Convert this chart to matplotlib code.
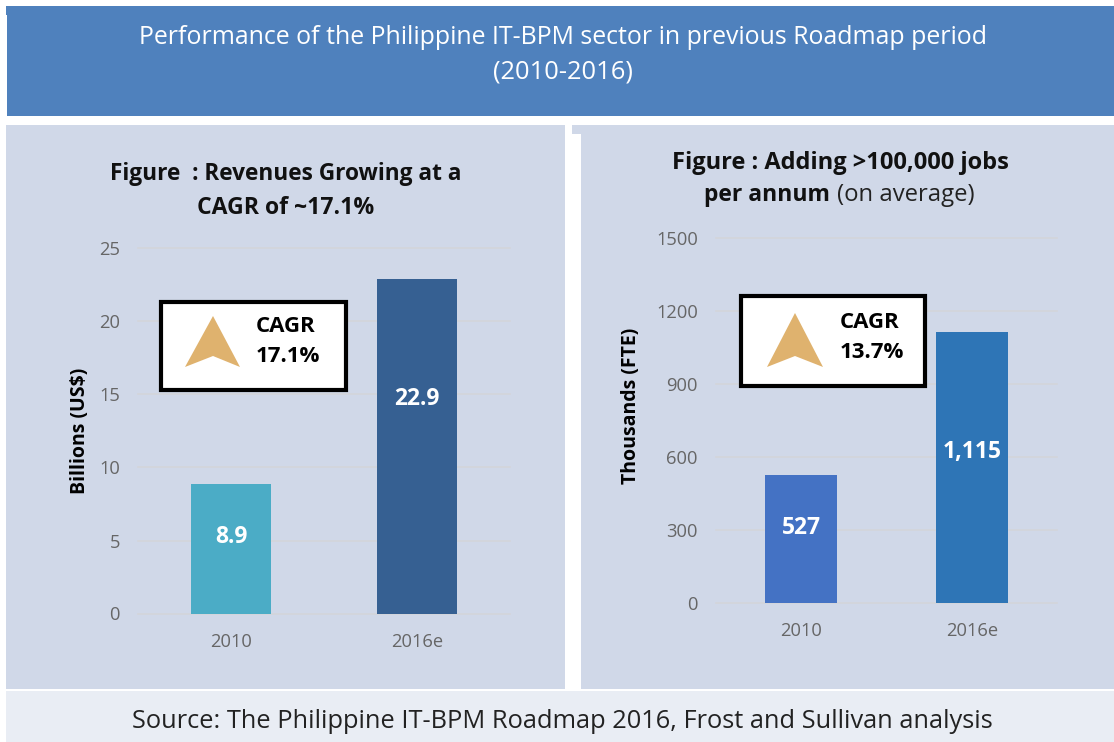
import numpy as np
import matplotlib
matplotlib.use("Agg")
import matplotlib.pyplot as plt
from matplotlib.patches import Rectangle, Polygon

W, H = 1114, 742
FONT = "Open Sans"
plt.rcParams["font.family"] = [FONT, "DejaVu Sans"]

categories = ["2010", "2016e"]
revenue = [8.9, 22.9]
revenue_labels = ["8.9", "22.9"]
revenue_ticks = [0, 5, 10, 15, 20, 25]
jobs = [527, 1115]
jobs_labels = ["527", "1,115"]
jobs_ticks = [0, 300, 600, 900, 1200, 1500]

fig = plt.figure(figsize=(W / 100, H / 100), dpi=100, facecolor="white")

bg = fig.add_axes([0, 0, 1, 1], zorder=0)
bg.set_xlim(0, W); bg.set_ylim(H, 0); bg.axis("off")

HEADER = "#4f81bd"
bg.add_patch(Rectangle((6, 6), W - 6, 9, fc=HEADER, ec="none"))
bg.add_patch(Rectangle((7, 15), W - 7, 101, fc=HEADER, ec="none"))

PANEL = "#d0d8e8"
bg.add_patch(Rectangle((6, 125), 559, 564, fc=PANEL, ec="none"))
bg.add_patch(Rectangle((572, 125), 542, 9, fc=PANEL, ec="none"))
bg.add_patch(Rectangle((581, 134), 533, 555, fc=PANEL, ec="none"))
bg.add_patch(Rectangle((6, 691), W - 6, 51, fc="#e9edf4", ec="none"))


def px_axes(x0, x1, ytop, ybot):
    return fig.add_axes([x0 / W, 1 - ybot / H, (x1 - x0) / W, (ybot - ytop) / H], zorder=1)


def chart(ax, values, labels, ticks, colors, width, ylabel, ylabel_xy, label_y):
    ax.patch.set_alpha(0)
    x = np.arange(len(values))
    ax.bar(x, values, width=width, color=colors, zorder=3)
    ax.set_xlim(-0.5, len(values) - 0.5)
    ax.set_ylim(ticks[0], ticks[-1])
    ax.set_yticks(ticks)
    ax.set_xticks(x, categories)
    ax.grid(axis="y", color="#d3d5da", lw=1.2, zorder=1, clip_on=False)
    ax.set_axisbelow(True)
    for s in ax.spines.values():
        s.set_visible(False)
    ax.tick_params(axis="both", length=0, labelcolor="#666666", labelsize=13.2)
    ax.tick_params(axis="y", pad=13)
    ax.tick_params(axis="x", pad=14)
    ax.set_ylabel(ylabel, fontsize=14, fontweight="bold", color="black",
                  va="center", rotation_mode="anchor")
    ax.yaxis.set_label_coords(*ylabel_xy)
    for xi, txt, ly in zip(x, labels, label_y):
        ax.text(xi, ly, txt, color="white", fontsize=16.5, fontweight="bold",
                ha="center", va="center", zorder=4)


ax1 = px_axes(138, 510, 248.5, 613.5)
chart(ax1, revenue, revenue_labels, revenue_ticks, ["#4bacc6", "#366092"], 0.43,
      "Billions (US$)", ((80 - 138) / 372, 0.5), [5.25, 14.7])

ax2 = px_axes(716, 1057, 238, 603)
chart(ax2, jobs, jobs_labels, jobs_ticks, ["#4472c4", "#2e75b6"], 0.42,
      "Thousands (FTE)", ((631 - 716) / 341, 0.54), [309, 622])

ov = fig.add_axes([0, 0, 1, 1], zorder=2)
ov.set_xlim(0, W); ov.set_ylim(H, 0); ov.axis("off"); ov.patch.set_alpha(0)

ARROW = "#dfb26e"
boxes = [
    ((160.5, 301.5), 185, 88, [(213, 316), (240, 367), (213, 356), (185, 367)], (286, 326), "17.1%"),
    ((741, 296), 184, 90, [(795, 313), (823, 367), (795, 356), (767, 367)], (870, 323), "13.7%"),
]
for (xy, w, h, pts, tp, pct) in boxes:
    ov.add_patch(Rectangle(xy, w, h, fc="white", ec="black", lw=3, joinstyle="miter"))
    ov.add_patch(Polygon(pts, closed=True, fc=ARROW, ec="none"))
    ov.text(tp[0], tp[1], "CAGR", fontsize=16, fontweight="bold", ha="center", va="center", color="black")
    ov.text(tp[0] + 2, tp[1] + 30, pct, fontsize=16, fontweight="bold", ha="center", va="center", color="black")

ov.text(563, 37, "Performance of the Philippine IT-BPM sector in previous Roadmap period",
        color="white", fontsize=17.9, ha="center", va="center")
ov.text(563, 72, "(2010-2016)", color="white", fontsize=18.4, ha="center", va="center")

ov.text(286, 174, "Figure  : Revenues Growing at a", fontsize=16.3, fontweight="bold", ha="center", va="center", color="#111111")
ov.text(286, 208, "CAGR of ~17.1%", fontsize=16.6, fontweight="bold", ha="center", va="center", color="#111111")

ov.text(840, 163, "Figure : Adding >100,000 jobs", fontsize=17, fontweight="bold", ha="center", va="center", color="#111111")
ov.text(704, 195, "per annum", fontsize=16.5, fontweight="bold", ha="left", va="center", color="#111111")
ov.text(837, 195, "(on average)", fontsize=17.2, ha="left", va="center", color="#222222")

ov.text(562, 722, "Source: The Philippine IT-BPM Roadmap 2016, Frost and Sullivan analysis",
        fontsize=18.25, ha="center", va="center", color="#222222")

fig.savefig("out.png", dpi=100)
